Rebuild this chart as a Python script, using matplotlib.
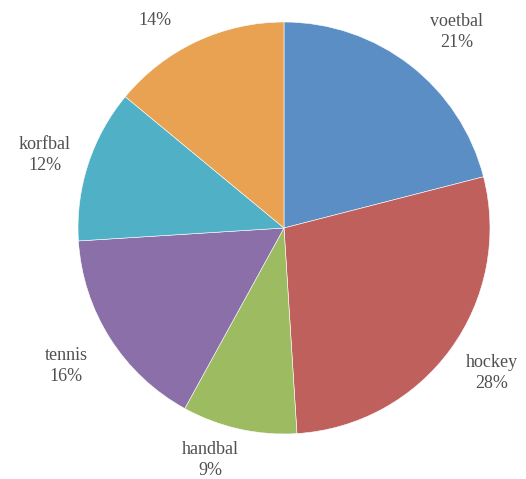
import matplotlib.pyplot as plt

# data
sports = ['voetbal', 'hockey', 'handbal', 'tennis', 'korfbal', '']
percent = [21, 28, 9, 16, 12, 14]
colors = ['#5b8ec4', '#c0605c', '#9dbb61', '#8a6fa8', '#4fb0c6', '#e8a252']

# label centres in pixels (from top-left)
label_pos = [(457, 32), (492, 373), (210, 460), (66, 366), (45, 155), (155, 20)]

W, H = 526, 479
cx, cy, r = 284, 228, 206

fig = plt.figure(figsize=(W / 100, H / 100), dpi=100)
ax = fig.add_axes([0, 0, 1, 1])
ax.pie(percent, colors=colors, startangle=90, counterclock=False,
       radius=r, center=(cx, H - cy),
       wedgeprops=dict(edgecolor='white', linewidth=0.4))
ax.set_xlim(0, W)
ax.set_ylim(0, H)
ax.set_aspect('equal')
ax.axis('off')

for name, p, (x, y) in zip(sports, percent, label_pos):
    txt = f'{name}\n{p}%' if name else f'{p}%'
    ax.text(x, H - y, txt, ha='center', va='center', fontsize=13,
            family='Liberation Serif', color='#505050', linespacing=1.3)

fig.savefig('out.png', dpi=100)
